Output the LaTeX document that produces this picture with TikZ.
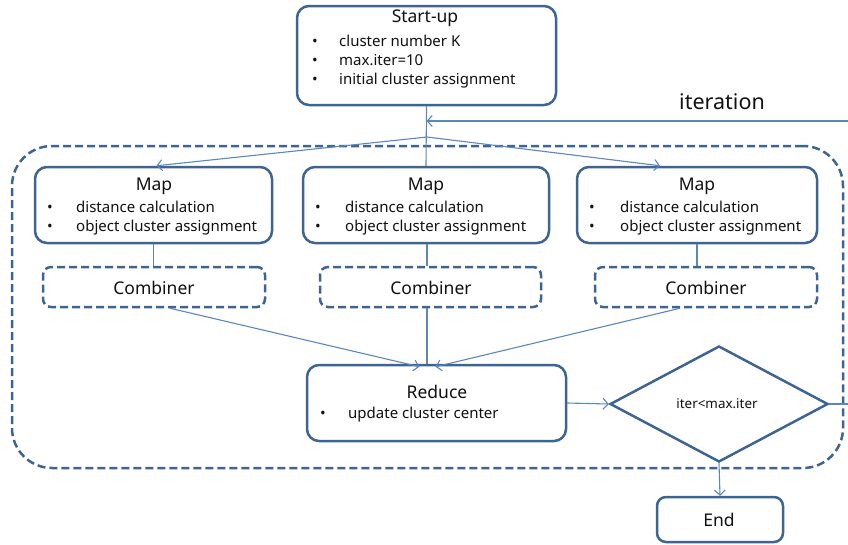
\documentclass[tikz,border=0pt]{standalone}
\usepackage{fontspec}
\setmainfont{Noto Sans}
\usetikzlibrary{arrows.meta,shapes.geometric}
\definecolor{boxc}{HTML}{3E6494}
\definecolor{linec}{HTML}{5B86C0}
\definecolor{txtc}{HTML}{111111}
\begin{document}
\begin{tikzpicture}[x=1pt,y=-1pt,
  box/.style={draw=boxc,line width=2.5pt,rounded corners=12pt,inner sep=0pt,fill=white},
  cbox/.style={draw=boxc,line width=2.5pt,dash pattern=on 8pt off 4pt,rounded corners=8pt,inner sep=0pt},
  conn/.style={draw=linec,line width=1.1pt},
  arr/.style={conn,-{Straight Barb[length=5pt,width=11pt]}},
  ttl/.style={font=\fontsize{17.5}{20}\selectfont,text=txtc,inner sep=0pt},
  txt/.style={font=\fontsize{15}{18}\selectfont,text=txtc,anchor=base west,inner sep=0pt},
  bul/.style={font=\fontsize{15}{18}\selectfont,text=txtc,anchor=base,inner sep=0pt},
]
\useasboundingbox (0,0) rectangle (848,544);

% outer dashed loop
\node[cbox,rounded corners=40pt,minimum width=831pt,minimum height=322pt] (loop) at (427.5,307) {};

% boxes
\node[box,minimum width=259pt,minimum height=99pt] (start) at (426.5,55.5) {};
\node[box,minimum width=237pt,minimum height=76pt] (map1) at (153.5,205) {};
\node[box,minimum width=246pt,minimum height=76pt] (map2) at (426,205) {};
\node[box,minimum width=240pt,minimum height=76pt] (map3) at (697,205) {};
\node[cbox,minimum width=222pt,minimum height=40pt] (comb1) at (154,287) {};
\node[cbox,minimum width=221pt,minimum height=40pt] (comb2) at (430.5,287) {};
\node[cbox,minimum width=222pt,minimum height=40pt] (comb3) at (706,287) {};
\node[box,minimum width=259pt,minimum height=76pt] (reduce) at (436.5,403) {};
\node[draw=boxc,line width=2.5pt,diamond,aspect=1.88,minimum width=218pt,minimum height=116pt,inner sep=0pt,fill=white] (dec) at (719,404) {};
\node[box,rounded corners=9pt,minimum width=126pt,minimum height=45pt] (end) at (720,519.5) {};

% texts
\node[ttl] (t-start) at (425,18) {Start-up};
\node[bul] (b-s1) at (315,46) {•};
\node[txt] (s1) at (339,46) {cluster number K};
\node[bul] (b-s2) at (315,65) {•};
\node[txt] (s2) at (339,65) {max.iter=10};
\node[bul] (b-s3) at (315,84) {•};
\node[txt] (s3) at (339,84) {initial cluster assignment};

\node[ttl] (t-map1) at (154,186) {Map};
\node[bul] (b-m11) at (50,212) {•};
\node[txt] (m11) at (76,212) {distance calculation};
\node[bul] (b-m12) at (50,231) {•};
\node[txt] (m12) at (76,231) {object cluster assignment};

\node[ttl] (t-map2) at (426,186) {Map};
\node[bul] (b-m21) at (318,212) {•};
\node[txt] (m21) at (345,212) {distance calculation};
\node[bul] (b-m22) at (318,231) {•};
\node[txt] (m22) at (345,231) {object cluster assignment};

\node[ttl] (t-map3) at (697,186) {Map};
\node[bul] (b-m31) at (592,212) {•};
\node[txt] (m31) at (620,212) {distance calculation};
\node[bul] (b-m32) at (592,231) {•};
\node[txt] (m32) at (620,231) {object cluster assignment};

\node[ttl] (t-c1) at (154,288) {Combiner};
\node[ttl] (t-c2) at (431,288) {Combiner};
\node[ttl] (t-c3) at (706,288) {Combiner};

\node[ttl] (t-red) at (437,392) {Reduce};
\node[bul] (b-r1) at (323,418) {•};
\node[txt] (r1) at (348,418) {update cluster center};

\node[font=\fontsize{13.4}{16}\selectfont,text=txtc,inner sep=0pt] (t-dec) at (717,404) {iter<max.iter};
\node[ttl] (t-end) at (719,520) {End};
\node[font=\fontsize{21.5}{25}\selectfont,text=txtc,inner sep=0pt] (t-iter) at (722,102) {iteration};

% connectors
\coordinate (apex) at (427,137);
\coordinate (iterin) at (848,121);
\coordinate (out) at (848,404);
\coordinate (cx) at (427,0);
\draw[conn] (start.south) -- (map2.north);
\draw[arr] (iterin) -- (iterin -| start.south);
\draw[arr] (apex) -- ([xshift=3pt]map1.north);
\draw[arr] (apex) -- ([xshift=-37pt]map3.north);
\draw[conn] (map1.south) -- (map1.south |- comb1.north);
\draw[conn] (map2.south -| cx) -- (comb2.north -| cx);
\draw[conn] (map3.south) -- (map3.south |- comb3.north);
\draw[arr] ([xshift=16pt]comb1.south) -- ([xshift=-17pt,yshift=-3pt]reduce.north);
\draw[conn] (comb2.south -| cx) -- (reduce.north -| cx);
\draw[arr] ([xshift=-26pt]comb3.south) -- ([xshift=-1pt,yshift=-3pt]reduce.north);
\draw[arr] (reduce.east) -- (dec.west);
\draw[conn] (dec.east) -- (out);
\draw[arr] (dec.south) -- (end.north);
\end{tikzpicture}
\end{document}
